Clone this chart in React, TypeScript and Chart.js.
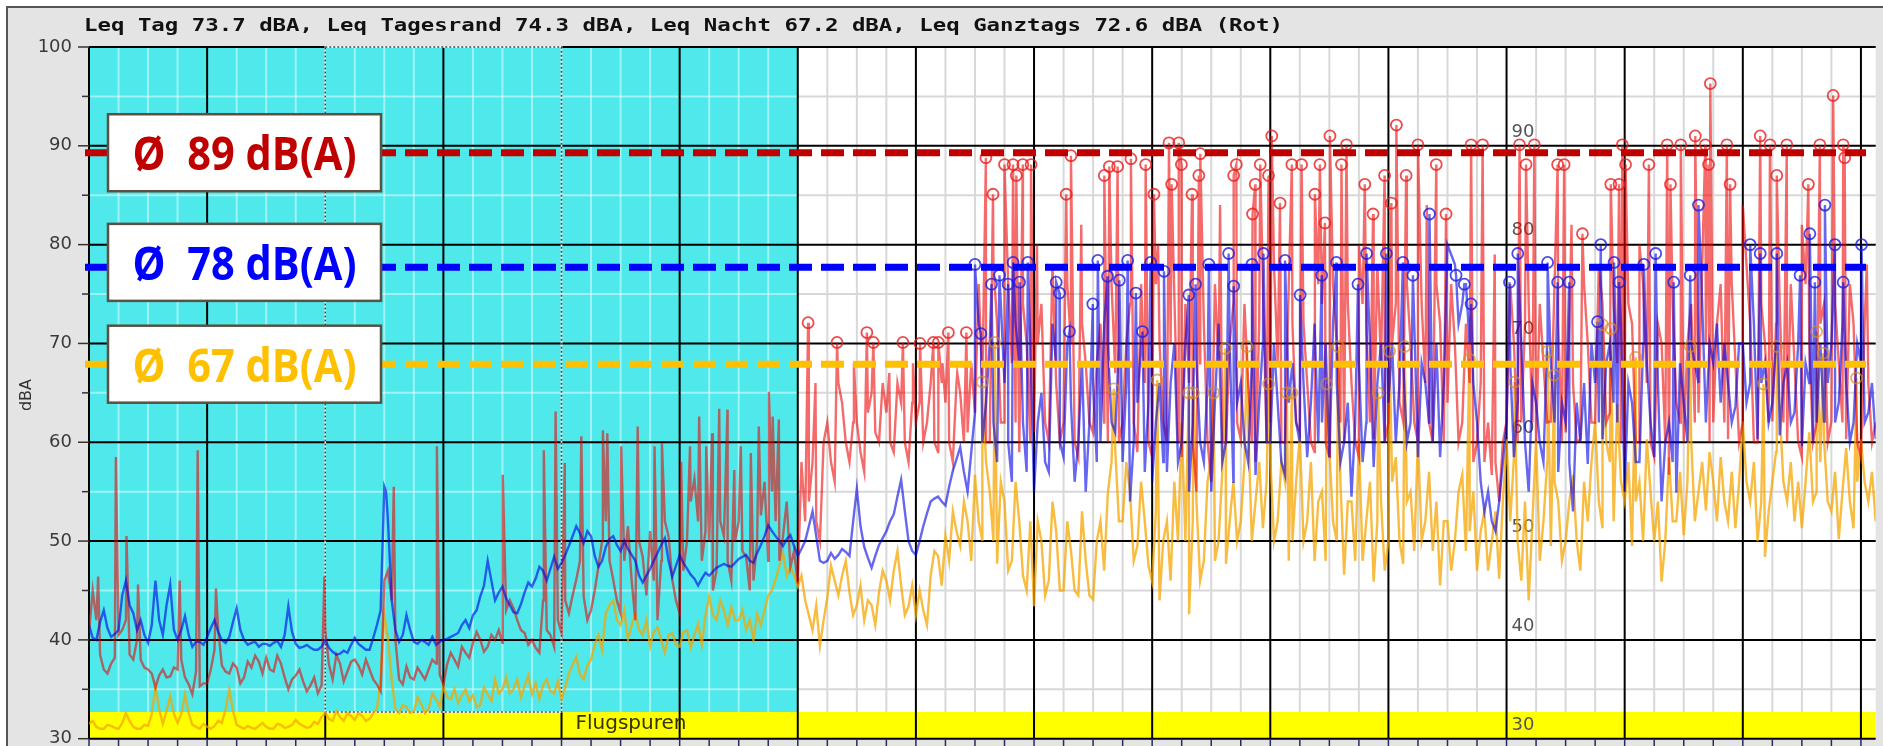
import React, { useEffect, useRef } from 'react';
import { Chart, registerables } from 'chart.js';

Chart.register(...registerables);

const W = 1883;
const H = 746;

// x axis is in "minor grid" units (4 minor units per major grid cell)
const X_MIN = 0;
const X_MAX = 60.5;
const SAMPLE_STEP = 0.25; // base samples at i*0.25, mid samples at i*0.25+0.125

const TITLE = 'Leq Tag 73.7 dBA, Leq Tagesrand 74.3 dBA, Leq Nacht 67.2 dBA, Leq Ganztags 72.6 dBA (Rot)';
const Y_TITLE = 'dBA';
const Y_TICKS = [30, 40, 50, 60, 70, 80, 90, 100];
const INNER_TICKS = [30, 40, 50, 60, 70, 80, 90];
const BAND_LABEL = 'Flugspuren';
const BAND_RANGE = [30, 32.7];
const NIGHT_RANGE = [0, 24];
const SELECTION_RANGE = [8, 16];

const AVG_VALUES = [89.3, 77.7, 67.9];
const AVG_LABELS = ['Ø  89 dB(A)', 'Ø  78 dB(A)', 'Ø  67 dB(A)'];

const BLUE_BASE = [
  41.5, 40, 43, 40.3, 41, 46, 42.7, 42, 39.7, 46, 40.5, 45.6, 40, 42.4, 39.3, 39.8,
  40.3, 42, 40, 40.3, 43.2, 40, 39.7, 39.3, 39.6, 39.7, 39.3, 43.4, 39.6, 39.3, 39.2, 39,
  40, 38.8, 38.6, 38.7, 40.2, 39.3, 39, 41.5, 55.5, 44, 39.8, 42.5, 39.8, 40, 39.5, 39.5,
  40, 40.3, 40.7, 42, 42.5, 44.4, 48, 44, 45.4, 43.5, 42.7, 44.8, 45.4, 47.4, 46, 48.4,
  47.8, 49.5, 51.5, 49.8, 50.5, 47.4, 49.4, 50.5, 49, 49.2, 48, 45.8, 47.2, 48.8, 50.3, 46.4,
  48.6, 47.2, 46.2, 46.2, 46.5, 47.3, 47.7, 47.4, 48.2, 48.6, 47.8, 49.6, 51.6, 50.5, 49.5, 50.6,
  48.5, 50, 53, 48, 48, 48.2, 49.2, 48.5, 55.3, 49.4, 47.3, 49.6, 51, 52.7, 56.2, 50,
  48.6, 51.5, 54, 54.5, 53.6, 57.1, 59.5, 55, 63, 60, 70, 58, 66, 56, 68, 57,
  55, 65, 57, 68, 58.5, 64, 60, 55, 66, 60, 70, 61, 58, 54, 64, 57,
  56, 66, 57, 70, 60, 55, 68, 58, 55, 72, 60, 56, 66, 58, 56.7, 70,
  60, 64, 56.7, 68, 60, 58.5, 72, 62, 58.5, 66, 60, 54.5, 68, 62, 57.5, 70,
  64, 60, 68, 62, 58.5, 66, 60, 58.5, 80, 78, 74, 70, 62, 53, 52, 54,
  62, 58.5, 70, 55, 64, 58, 68, 57, 62, 53, 60, 57.8, 66, 60.3, 70, 62,
  55, 64, 58, 68, 58.5, 54, 62, 54.9, 64, 70, 66, 62, 68, 64, 66, 63.6,
  70, 66, 60.3, 68, 64, 60.7, 68, 63, 59.6, 66, 62, 62.1, 70, 64, 66, 62,
  68, 63, 60.3
];
const BLUE_MID = [
  40.2, 41.8, 41.2, 40.6, 44.5, 43.5, 41, 40.5, 41.5, 42, 43.5, 41, 41, 40.5, 39.8, 39.5,
  41.2, 40.8, 39.7, 41.8, 41, 39.5, 39.8, 39.6, 39.4, 39.9, 40.5, 40.8, 39.2, 39.5, 39, 39.3,
  39.2, 38.5, 38.9, 39.5, 39.6, 39, 40.2, 43, 52, 41, 40.5, 41, 39.6, 39.8, 40.3, 39.8,
  40.1, 40.5, 41.5, 41.2, 43, 45.5, 46, 44.8, 44.2, 42.8, 43.6, 45.8, 46.2, 47, 47.2, 47.2,
  48.6, 50.5, 50.8, 51, 48.5, 48, 50.2, 49.6, 50, 48.6, 46.5, 46.5, 48, 49.6, 48, 47.5,
  47.8, 46.6, 45.5, 46.8, 46.9, 47.5, 47.5, 47.8, 48.4, 48, 48.8, 50.5, 51, 50, 50.2, 49.5,
  49.2, 51.5, 50.5, 47.8, 48.8, 48.6, 48.9, 52, 51.5, 48.3, 48.5, 50.3, 52, 54.5, 53, 49,
  50, 52.8, 54.3, 54, 55.5, 58.3, 57, 59, 72, 64, 62, 74, 60, 72, 62, 70,
  62, 58, 72, 60, 70, 56, 68, 62, 58, 72, 62, 70, 66, 60, 70, 64,
  62, 58, 66, 58, 70, 62, 60, 66, 64, 58, 70, 64, 60, 68, 64, 60,
  70, 58, 64, 62, 66, 64, 60, 70, 72, 58, 64, 62, 58, 70, 66, 60,
  70, 66, 60, 72, 68, 62, 70, 66, 79, 72, 76, 66, 56, 55, 51, 58,
  68, 64, 60, 66, 60, 70, 62, 64, 58, 64, 66, 70, 62, 68, 64, 72,
  66, 58, 70, 62, 66, 60, 58, 68, 60, 68, 74, 70, 72, 70, 62, 70,
  64, 72, 66, 62, 70, 66, 62, 70, 68, 60, 70, 66, 62, 72, 60, 70,
  62, 66
];

const RED_BASE = [
  40.7, 42, 37, 37.6, 40.5, 42, 38, 38, 37, 35.2, 37, 36.3, 37, 36.2, 34.5, 35.3,
  35.6, 39, 37.4, 36.6, 37.2, 36.2, 37.2, 37.8, 38.2, 36.8, 37.6, 35, 36.4, 35.8, 35.4, 34.6,
  41, 36, 37.6, 36.8, 38, 36.5, 37, 35.5, 46, 44, 36, 37.3, 36, 36.6, 37, 37.6,
  35.5, 38.7, 37.3, 38.7, 39.7, 40, 39.3, 40, 39.7, 44, 42, 40.7, 40, 38.7, 41, 39.3,
  40.7, 42.7, 46.1, 44.4, 43, 47.4, 52, 46.1, 42.7, 51.5, 42, 48.4, 51, 42, 52, 46.1,
  42.7, 50, 56.3, 48, 50, 47, 50.5, 46, 52, 48.4, 46, 52.6, 48, 52, 50.5, 47.4,
  45.7, 52, 58, 50, 62, 56, 64, 58, 62, 57, 65, 60, 63, 59, 64, 58,
  62, 60, 66, 59, 64, 58, 65, 61, 63, 66, 60, 72, 62, 68, 59, 70,
  61, 74, 60, 66, 62, 70, 58.5, 68, 61, 72, 60, 67, 62, 74, 59, 66,
  58.5, 70, 60, 75, 58.5, 66, 55, 72, 56, 68, 60, 74, 60.3, 66, 58, 76,
  62, 68, 60, 72, 61, 66, 59, 74, 58.5, 70, 60, 66, 58.5, 72, 60.3, 68,
  62, 74, 62.1, 70, 60, 66, 60, 72, 64, 70, 62, 66, 60, 58, 56.7, 54,
  62.1, 70, 62, 74, 60, 68, 62.1, 72, 61, 66, 60.3, 70, 62, 74, 63, 68,
  58.5, 72, 60, 66, 58.5, 70, 56.7, 64, 60, 74, 63, 70, 62, 76, 60.3, 68,
  62, 72, 60, 70, 62.1, 74, 60, 68, 58.5, 70, 62, 74, 62.1, 68, 60.3, 72,
  58.5, 66, 62
];
const RED_MID = [
  45, 38.5, 36.6, 38.2, 41, 38.5, 40, 37.2, 36.6, 36.4, 36.2, 37.2, 38, 35.5, 36.8, 35.6,
  37, 41, 36.8, 37.6, 35.6, 37.8, 38.4, 36.6, 37, 38.4, 36.2, 36, 37, 34.8, 36.2, 35.4,
  37.5, 38.5, 35.8, 37.8, 37.4, 38, 36, 34.8, 47, 40, 35.5, 36.2, 37.2, 36, 38, 36.5,
  37.5, 38, 39.3, 38.2, 40.8, 38.8, 40.5, 41, 43, 43.2, 41, 39.5, 39.2, 44, 40.5, 42,
  44, 44.5, 48, 42, 45, 50, 48, 44, 48, 46, 50, 44.5, 46, 48, 50.5, 44,
  47, 54, 52, 51, 45, 52, 48, 50, 49, 45, 50, 56, 55, 48, 54, 49,
  58, 54, 52, 60, 58, 66, 60, 62, 59, 63, 61, 66, 60, 66, 60, 64,
  64, 62, 60, 66, 60, 66, 60, 68, 76, 60, 78, 62, 76, 62, 74, 60,
  70, 62, 78, 60, 76, 60, 72, 62, 68, 62, 76, 60, 70, 62, 76, 60,
  76, 62, 70, 60, 74, 60, 68, 60, 76, 60, 70, 62, 74, 60, 72, 60,
  78, 60, 76, 62, 72, 60, 76, 60, 76, 62, 74, 60, 74, 62, 78, 60,
  70, 64, 76, 62, 74, 62, 76, 60, 76, 60, 72, 58, 66, 62, 58, 60,
  76, 60, 72, 62, 74, 62, 76, 60, 72, 60, 76, 62, 78, 62, 74, 60,
  74, 60, 76, 60, 72, 60, 74, 62, 70, 62, 78, 60, 72, 62, 76, 60,
  78, 60, 74, 62, 72, 62, 76, 60, 76, 60, 72, 60, 74, 62, 76, 60,
  72, 60
];

const ORANGE_BASE = [
  31.5, 31.2, 31, 31.3, 31, 32.6, 31.2, 31, 31.3, 35.3, 31.5, 34.3, 31.6, 34.5, 31.4, 31,
  31.2, 31.3, 31.6, 35, 31.4, 31, 31.1, 31.3, 31.2, 31, 31.4, 31.2, 31.9, 31.3, 31.2, 31.5,
  32.6, 31.8, 32.2, 32.6, 31.9, 32.3, 32, 33, 42.5, 36, 32.6, 33.2, 32.8, 33.5, 33, 34,
  35.3, 34, 33.6, 35, 34.4, 33.4, 34.5, 36, 35, 34.6, 36, 35.3, 34.5, 34, 36, 34.6,
  34, 36.6, 38.3, 36, 38, 40.5, 42.7, 44, 41.5, 40, 42.7, 40.5, 39.3, 41.3, 38.7, 40.7,
  39.3, 41, 40.5, 39.5, 44.4, 42, 43, 43.3, 42, 41, 40, 41.5, 44.5, 46.1, 48.8, 47.4,
  45.4, 44, 41, 39.4, 44.3, 46, 46.5, 44.8, 43.5, 42, 43.5, 44.8, 46, 47, 45.5, 43.4,
  42.5, 43, 46.5, 48.5, 50.5, 53, 49.5, 52, 56.7, 50, 55, 47.7, 54, 48, 52, 45,
  43.4, 50, 46, 51, 45, 49, 44.5, 48, 44.1, 52, 54.9, 59.2, 52, 55, 49.5, 52,
  45.9, 44, 52, 56, 62, 42.6, 54, 48, 58.5, 50, 47.7, 56, 52, 62, 54, 51.3,
  58.5, 52, 56, 50, 60.7, 52, 48, 55, 59.2, 50, 46.6, 54, 60.3, 52, 45.9, 54,
  50, 58.5, 47.7, 55, 60.3, 52, 49, 45.5, 52, 50, 56.7, 51, 47, 53, 50, 46.2,
  60.3, 58.5, 46, 44, 60.3, 52, 49.5, 54, 50, 56.7, 47, 52, 62.1, 51.3, 58, 63.9,
  54, 49.5, 56, 60.3, 50, 45.9, 58.5, 52, 50.6, 60.3, 55, 53.1, 56, 58.5, 52, 51.3,
  62.1, 54, 50, 48.4, 56, 63.2, 54, 52, 51.3, 61, 55, 60.3, 53, 50.2, 59.4, 51.3,
  60.3, 54, 52
];
const ORANGE_MID = [
  31.8, 31, 31.4, 31.1, 31.6, 31.8, 31, 31.4, 32.5, 33, 32.8, 32.5, 32.5, 32.6, 31.2, 31.5,
  31, 31.8, 33, 32.8, 31.2, 31.3, 31, 31.6, 31, 31.5, 31.1, 31.4, 31.5, 31.1, 31.7, 32.2,
  32, 32.8, 31.8, 32.3, 32.6, 31.8, 32.6, 36, 40, 33, 33.4, 32.6, 34.2, 32.6, 34.6, 33.2,
  34.2, 35, 34.4, 33.8, 33.2, 35.2, 33.8, 34.6, 36.2, 35, 34.2, 36.4, 35.6, 35.4, 34.8, 35.8,
  35.2, 37.5, 36.5, 37.4, 39.5, 39, 43.5, 42, 43, 41.5, 41, 42, 40.8, 40, 40.5, 39.5,
  40.8, 39.2, 41.6, 42.5, 42.5, 44, 41.5, 42, 43, 42, 42.6, 43, 45, 47.5, 46.5, 46.5,
  46.5, 42.5, 43.5, 42, 47.5, 44.5, 48, 42.5, 45.5, 44, 41.5, 47, 44, 49, 42.5, 45.5,
  45, 41.5, 49, 45.5, 48, 51, 54, 48, 52, 58, 50, 56, 47, 56, 46.5, 52,
  52, 44.5, 54, 45, 52, 45, 53, 44.5, 50, 47, 58, 52, 58, 48, 56, 47.5,
  53, 50, 46, 50, 50, 52, 46, 56, 48, 57, 52, 50, 58, 50, 58, 56,
  50, 58, 48, 56, 50, 58, 54, 48, 52, 56, 54, 48, 48, 56, 52, 47,
  56, 50, 54, 49, 50, 57, 54, 52, 47, 55, 49, 55, 51, 47, 53, 54,
  52, 50, 54, 52, 48, 58, 56, 48, 54, 50, 56, 58, 54, 60, 52, 56,
  58, 54, 50, 55, 54, 50, 52, 57, 56, 52, 58, 59, 52, 54, 57, 56,
  56, 58, 54, 53, 59, 56, 58, 56, 56, 54, 58, 54, 57, 55, 54, 56,
  56, 57
];

// short unmarked peaks
const RED_SPIKE_X = [
  0.31, 0.91, 1.27, 1.66, 3.07, 3.68, 4.3, 7.97, 10.32, 11.78, 14.01, 15.4, 15.8, 16.11, 16.67, 17.4, 17.55, 18.02,
  18.58, 19.15, 19.4, 20.05, 20.35, 20.66, 20.9, 21.1, 21.34, 21.62, 21.85, 22.07, 22.41, 22.68, 23.02, 23.15, 23.36,
  24.6, 25.9, 27.1, 27.9, 28.9, 29.4, 32.1, 33.6, 36.2, 38.3, 43.0, 45.3, 47.6, 50.2, 52.5, 56.0, 58.0, 60.2
];
const RED_SPIKE_Y = [
  46.4, 58.5, 50.5, 45.6, 46, 59.2, 45.2, 46.4, 55.5, 59.6, 56.7, 59.2, 63.1, 57.9, 60.6, 61.2, 60.9, 59.6,
  61.6, 59.6, 59.9, 58, 59.6, 62.6, 59.6, 60.9, 63.4, 63.3, 57.2, 59.6, 58.9, 61.6, 65.1, 62.6, 62.3,
  66, 68, 67, 68, 68, 67, 80, 82, 80, 84, 80, 84, 79, 82, 80, 84, 82, 78
];
const BLUE_SPIKE_X = [10.06];
const BLUE_SPIKE_Y = [55];

// marked peaks (circles)
const RED_MARK_X = [
  24.35, 25.33, 26.34, 26.56, 27.56, 28.14, 28.59, 28.76, 29.1, 29.71,
  30.37, 30.61, 31.0, 31.29, 31.4, 31.62, 31.9, 33.09, 33.25, 34.38, 34.55, 34.83, 35.28, 35.78,
  36.06, 36.57, 36.66, 36.9, 36.99, 37.35, 37.58, 37.63, 38.76, 38.85, 39.4, 39.49, 39.66, 39.94, 40.05, 40.33,
  40.73, 41.06, 41.51, 41.68, 41.85, 42.02, 42.41, 42.58, 43.2, 43.48, 43.87, 44.1, 44.27, 44.6, 45.0, 45.62,
  45.95, 46.8, 47.19,
  48.44, 48.66, 48.94, 49.73, 49.95, 50.57, 51.53, 51.81, 51.92, 52.03, 52.82, 53.44, 53.55, 53.9, 54.39, 54.73,
  54.84, 54.9, 55.46, 55.57, 56.59, 56.92, 57.15, 57.49, 58.22, 58.61, 59.06, 59.4, 59.45
];
const RED_MARK_Y = [
  72.1, 70.1, 71.1, 70.1, 70.1, 70.0, 70.1, 70.1, 71.1, 71.1,
  88.8, 85.1, 88.1, 88.1, 87.0, 88.1, 88.1, 85.1, 89.0, 87.0, 87.9, 87.9, 88.7, 88.1,
  85.1, 90.3, 86.1, 90.3, 88.1, 85.1, 87.0, 89.2, 87.0, 88.1, 83.1, 86.1, 88.1, 87.0, 91.0, 84.2,
  88.1, 88.1, 85.1, 88.1, 82.2, 91.0, 88.1, 90.1, 86.1, 83.1, 87.0, 84.2, 92.1, 87.0, 90.1, 88.1,
  83.1, 90.1, 90.1,
  90.1, 88.1, 90.1, 88.1, 88.1, 81.1, 86.1, 86.1, 90.1, 88.1, 88.1, 90.1, 86.1, 90.1, 91.0, 90.1,
  88.1, 96.3, 90.1, 86.1, 91.0, 90.1, 87.0, 90.1, 86.1, 90.1, 95.1, 90.1, 88.8
];
const BLUE_MARK_X = [
  30.0, 30.2, 30.56, 30.83, 31.12, 31.29, 31.51, 31.79, 32.75, 32.86, 33.2, 33.99, 34.16, 34.49, 34.89, 35.17, 35.45, 35.67,
  35.95, 36.4, 37.24, 37.47, 37.92, 38.59, 38.76, 39.38, 39.77, 40.5, 41.01, 41.74, 42.24, 42.97, 43.26, 43.93, 44.49, 44.83,
  45.39, 46.29, 46.57, 46.8,
  48.1, 48.38, 49.39, 49.73, 50.12, 51.08, 51.19, 51.64, 51.81, 52.65, 53.05, 53.66, 54.22, 54.5, 56.25, 56.59, 57.15, 57.94,
  58.27, 58.44, 58.78, 59.12, 59.4, 60.02
];
const BLUE_MARK_Y = [
  78.0, 71.0, 76.0, 76.9, 76.0, 78.2, 76.2, 78.2, 76.2, 75.1, 71.2, 74.0, 78.4, 76.8, 76.4, 78.4, 75.1, 71.2,
  78.2, 77.3, 74.9, 76.0, 78.0, 79.1, 75.8, 78.0, 79.1, 78.4, 74.9, 76.9, 78.2, 76.0, 79.1, 79.1, 78.2, 76.9,
  83.1, 76.9, 76.0, 74.0,
  76.2, 79.1, 78.2, 76.2, 76.2, 72.2, 80.0, 78.2, 76.2, 78.0, 79.1, 76.2, 76.9, 84.0, 80.0, 79.1, 79.1, 76.9,
  81.1, 76.2, 84.0, 80.0, 76.2, 80.0
];
const ORANGE_MARK_X = [
  30.25, 30.67, 34.7, 36.17, 37.24, 37.4, 38.08, 38.48, 39.21, 39.94, 40.56, 40.73, 41.91, 42.3, 43.65,
  44.04, 44.55, 46.74, 48.27, 49.39, 49.62, 51.25, 51.53, 52.37, 54.22, 56.7, 57.15, 58.5, 58.72, 59.85
];
const ORANGE_MARK_Y = [
  66.1, 70.1, 65.4, 66.3, 65.0, 65.0, 65.0, 69.5, 69.7, 65.9, 65.0, 65.0, 65.9, 69.7, 65.0,
  69.2, 69.7, 68.4, 66.1, 69.2, 66.8, 71.9, 71.5, 68.6, 69.7, 65.9, 69.7, 71.2, 69.0, 66.5
];

// colours
const CYAN = '#4fe9ec';
const YELLOW = '#ffff00';
const MINOR_NIGHT = 'rgba(255,255,255,0.45)';
const MINOR_DAY = '#d8d8d8';
const RED_LINE = 'rgba(238,0,0,0.58)';
const BLUE_LINE = 'rgba(0,0,230,0.6)';
const ORANGE_LINE = 'rgba(245,165,0,0.75)';
const AVG_COLORS = ['#c00000', '#0000ff', '#ffc000'];
const BOX_OFFSETS = [0, -5, 0];

type Pt = { x: number; y: number };

function pointsOf(xs: number[], ys: number[]): Pt[] {
  return xs.map((x, i) => ({ x, y: ys[i] }));
}

function mergeSeries(base: number[], mid: number[], extras: Pt[][]): Pt[] {
  const pts: Pt[] = base.map((v, i) => ({ x: i * SAMPLE_STEP, y: v }));
  mid.forEach((v, i) => pts.push({ x: i * SAMPLE_STEP + SAMPLE_STEP / 2, y: v }));
  extras.forEach((list) => list.forEach((p) => pts.push({ x: p.x, y: p.y })));
  pts.sort((a, b) => a.x - b.x);
  return pts;
}

const decorPlugin = {
  id: 'decor',
  beforeDraw(chart: any) {
    const ctx: CanvasRenderingContext2D = chart.ctx;
    ctx.save();
    ctx.fillStyle = '#ffffff';
    ctx.fillRect(0, 0, W, H);
    ctx.fillStyle = '#e4e4e4';
    ctx.fillRect(7, 7, W - 7, H - 7);
    ctx.strokeStyle = '#555555';
    ctx.lineWidth = 2;
    ctx.beginPath();
    ctx.moveTo(7, H);
    ctx.lineTo(7, 7);
    ctx.lineTo(W, 7);
    ctx.stroke();
    ctx.restore();
  },
  beforeDatasetsDraw(chart: any) {
    const ctx: CanvasRenderingContext2D = chart.ctx;
    const xs = chart.scales.x;
    const ys = chart.scales.y;
    const px = (m: number) => xs.getPixelForValue(m);
    const py = (v: number) => ys.getPixelForValue(v);
    const { left, right, top, bottom } = chart.chartArea;
    const bandTop = py(BAND_RANGE[1]);
    const line = (x1: number, y1: number, x2: number, y2: number) => {
      ctx.beginPath();
      ctx.moveTo(x1, y1);
      ctx.lineTo(x2, y2);
      ctx.stroke();
    };
    ctx.save();
    ctx.fillStyle = '#ffffff';
    ctx.fillRect(left, top, right - left, bottom - top);
    ctx.fillStyle = CYAN;
    ctx.fillRect(px(NIGHT_RANGE[0]), top, px(NIGHT_RANGE[1]) - px(NIGHT_RANGE[0]), bandTop - top);
    ctx.lineWidth = 2;
    for (let m = 1; m <= Math.floor(X_MAX); m++) {
      if (m % 4 === 0) continue;
      const x = px(m);
      ctx.strokeStyle = m < NIGHT_RANGE[1] ? MINOR_NIGHT : MINOR_DAY;
      line(x, top, x, bandTop);
    }
    for (let v = 35; v < 100; v += 10) {
      const y = py(v);
      ctx.strokeStyle = MINOR_NIGHT;
      line(left, y, px(NIGHT_RANGE[1]), y);
      ctx.strokeStyle = MINOR_DAY;
      line(px(NIGHT_RANGE[1]), y, right, y);
    }
    ctx.fillStyle = YELLOW;
    ctx.fillRect(left, bandTop, right - left, bottom - bandTop);
    ctx.strokeStyle = '#000000';
    ctx.lineWidth = 2;
    for (let m = 0; m <= X_MAX; m += 4) {
      const x = px(m);
      if (m === SELECTION_RANGE[0] || m === SELECTION_RANGE[1]) line(x, bandTop, x, bottom);
      else line(x, top, x, bottom);
    }
    for (let v = 30; v <= 100; v += 10) {
      const y = py(v);
      if (v === 100) {
        line(left, y, px(SELECTION_RANGE[0]), y);
        line(px(SELECTION_RANGE[1]), y, right, y);
      } else line(left, y, right, y);
    }
    const sx0 = px(SELECTION_RANGE[0]);
    const sx1 = px(SELECTION_RANGE[1]);
    const sy0 = py(100);
    ctx.lineWidth = 1.6;
    ctx.strokeStyle = '#ffffff';
    ctx.strokeRect(sx0, sy0, sx1 - sx0, bandTop - sy0);
    ctx.strokeStyle = '#444444';
    ctx.setLineDash([2, 2]);
    ctx.strokeRect(sx0, sy0, sx1 - sx0, bandTop - sy0);
    ctx.setLineDash([]);
    ctx.strokeStyle = '#333333';
    ctx.lineWidth = 1.5;
    for (let v = 30; v <= 100; v += 5) {
      const y = py(v);
      line(left - (v % 10 === 0 ? 11 : 7), y, left, y);
    }
    ctx.strokeStyle = '#2a2a60';
    for (let m = 0; m <= X_MAX; m++) {
      const x = px(m);
      line(x, bottom, x, H);
    }
    ctx.font = '18px "DejaVu Sans"';
    ctx.fillStyle = '#3a3a3a';
    ctx.textAlign = 'right';
    ctx.textBaseline = 'middle';
    Y_TICKS.forEach((v) => ctx.fillText(String(v), 72, py(v)));
    ctx.fillStyle = '#555555';
    ctx.textAlign = 'left';
    INNER_TICKS.forEach((v) => ctx.fillText(String(v), px(48) + 5, py(v + 1.4)));
    ctx.font = '20px "DejaVu Sans"';
    ctx.fillStyle = '#333300';
    ctx.textBaseline = 'alphabetic';
    ctx.fillText(BAND_LABEL, px(16) + 14, 729);
    ctx.save();
    ctx.translate(31, 395);
    ctx.rotate(-Math.PI / 2);
    ctx.font = '16px "DejaVu Sans"';
    ctx.fillStyle = '#333333';
    ctx.textAlign = 'center';
    ctx.fillText(Y_TITLE, 0, 0);
    ctx.restore();
    ctx.save();
    ctx.font = 'bold 18px "DejaVu Sans Mono"';
    ctx.fillStyle = '#111111';
    ctx.textAlign = 'left';
    const tw = ctx.measureText(TITLE).width;
    ctx.translate(84, 31);
    ctx.scale(1199 / tw, 1);
    ctx.fillText(TITLE, 0, 0);
    ctx.restore();
    ctx.restore();
  },
  afterDatasetsDraw(chart: any) {
    const ctx: CanvasRenderingContext2D = chart.ctx;
    const ys = chart.scales.y;
    ctx.save();
    AVG_VALUES.forEach((v, i) => {
      const y = ys.getPixelForValue(v);
      ctx.strokeStyle = AVG_COLORS[i];
      ctx.lineWidth = 7;
      ctx.setLineDash([23, 9]);
      ctx.beginPath();
      ctx.moveTo(85, y);
      ctx.lineTo(1866, y);
      ctx.stroke();
      ctx.setLineDash([]);
      const by = y + BOX_OFFSETS[i];
      ctx.fillStyle = '#ffffff';
      ctx.fillRect(108, by - 38.5, 273, 77);
      ctx.strokeStyle = '#5b5042';
      ctx.lineWidth = 2.5;
      ctx.strokeRect(108, by - 38.5, 273, 77);
      ctx.font = 'bold 46px "Open Sans"';
      const w = ctx.measureText(AVG_LABELS[i]).width;
      const s = Math.min(1, 224 / w);
      ctx.save();
      ctx.translate(244.5, by + 17.5);
      ctx.scale(s, 1);
      ctx.fillStyle = AVG_COLORS[i];
      ctx.textAlign = 'center';
      ctx.textBaseline = 'alphabetic';
      ctx.fillText(AVG_LABELS[i], 0, 0);
      ctx.restore();
    });
    ctx.restore();
  },
};

export default function App() {
  const ref = useRef<HTMLCanvasElement>(null);
  useEffect(() => {
    const redMarks = pointsOf(RED_MARK_X, RED_MARK_Y);
    const blueMarks = pointsOf(BLUE_MARK_X, BLUE_MARK_Y);
    const orangeMarks = pointsOf(ORANGE_MARK_X, ORANGE_MARK_Y);
    const redLine = mergeSeries(RED_BASE, RED_MID, [pointsOf(RED_SPIKE_X, RED_SPIKE_Y), redMarks]);
    const blueLine = mergeSeries(BLUE_BASE, BLUE_MID, [pointsOf(BLUE_SPIKE_X, BLUE_SPIKE_Y), blueMarks]);
    const orangeLine = mergeSeries(ORANGE_BASE, ORANGE_MID, [orangeMarks]);
    const markDs = (data: Pt[], color: string) => ({
      type: 'scatter' as const,
      data,
      showLine: false,
      pointRadius: 5.5,
      pointStyle: 'circle',
      borderWidth: 1.8,
      borderColor: color,
      backgroundColor: 'rgba(0,0,0,0)',
    });
    const lineDs = (data: Pt[], color: string) => ({
      type: 'line' as const,
      data,
      borderColor: color,
      borderWidth: 2.4,
      pointRadius: 0,
      fill: false,
      tension: 0,
    });
    const chart = new Chart(ref.current as HTMLCanvasElement, {
      type: 'line',
      data: {
        datasets: [
          markDs(redMarks, 'rgba(232,30,30,0.8)'),
          markDs(blueMarks, 'rgba(30,30,225,0.8)'),
          markDs(orangeMarks, 'rgba(215,140,40,0.7)'),
          lineDs(blueLine, BLUE_LINE),
          lineDs(redLine, RED_LINE),
          lineDs(orangeLine, ORANGE_LINE),
        ] as any,
      },
      options: {
        responsive: false,
        animation: false,
        devicePixelRatio: 1,
        events: [],
        layout: { padding: { left: 89, top: 47, right: 0, bottom: 7 } },
        plugins: { legend: { display: false }, tooltip: { enabled: false }, title: { display: false } },
        scales: {
          x: { type: 'linear', display: false, min: X_MIN, max: X_MAX },
          y: { type: 'linear', display: false, min: 30, max: 100 },
        },
      },
      plugins: [decorPlugin],
    } as any);
    return () => chart.destroy();
  }, []);
  return (
    <div style={{ position: 'absolute', left: 0, top: 0, width: W, height: H }}>
      <canvas ref={ref} width={W} height={H} style={{ display: 'block', width: W, height: H }} />
    </div>
  );
}
